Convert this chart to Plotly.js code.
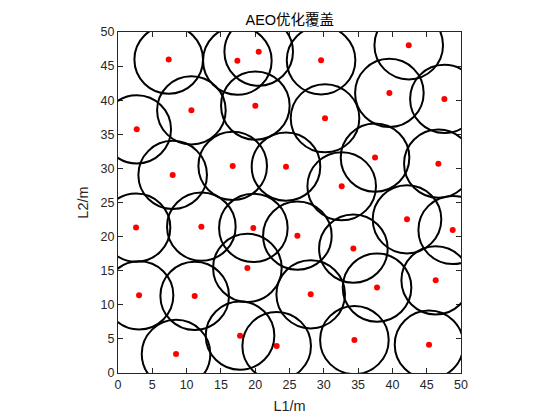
<!DOCTYPE html>
<html>
<head>
<meta charset="utf-8">
<script src="https://cdn.plot.ly/plotly-3.0.1.min.js"></script>
<style>html,body{margin:0;padding:0;background:#fff}#chart{width:560px;height:420px}</style>
</head>
<body>
<div id="chart"></div>
<script>
var nodeX = [7.39, 17.40, 20.51, 10.70, 20.02, 2.73, 7.97, 16.72, 24.49,
             29.60, 42.38, 39.56, 47.58, 30.18, 37.47, 46.70, 32.61,
             2.63, 12.15, 19.73, 18.86, 3.07, 11.18, 17.79, 23.13, 8.46,
             26.15, 34.31, 42.13, 48.79, 37.76, 46.31, 28.09, 34.46, 45.34];
var nodeY = [45.95, 45.80, 47.12, 38.52, 39.20, 35.73, 29.04, 30.36, 30.26,
             45.85, 48.05, 41.06, 40.18, 37.35, 31.58, 30.70, 27.38,
             21.32, 21.46, 21.27, 15.40, 11.39, 11.30, 5.48, 3.96, 2.79,
             20.14, 18.24, 22.54, 20.97, 12.52, 13.59, 11.54, 4.84, 4.16];
var coverRadius = 5;
var tickVals = [0, 5, 10, 15, 20, 25, 30, 35, 40, 45, 50];

var shapes = nodeX.map(function (cx, i) {
  var cy = nodeY[i];
  return {
    type: 'circle', xref: 'x', yref: 'y',
    x0: cx - coverRadius, x1: cx + coverRadius,
    y0: cy - coverRadius, y1: cy + coverRadius,
    line: {color: '#000000', width: 2}, layer: 'above'
  };
});

var trace = {
  x: nodeX, y: nodeY, mode: 'markers', type: 'scatter',
  marker: {color: '#ff0000', size: 6},
  hoverinfo: 'x+y'
};

var axisBase = {
  range: [0, 50], tickvals: tickVals, ticktext: tickVals.map(String),
  ticks: 'inside', ticklen: 5, tickwidth: 1, tickcolor: '#262626',
  showline: true, linecolor: '#262626', linewidth: 1, mirror: 'allticks',
  showgrid: false, zeroline: false,
  tickfont: {family: 'Liberation Sans, Arial, sans-serif', size: 12.5, color: '#262626'}
};

var layout = {
  width: 560, height: 420,
  margin: {l: 118, r: 99, t: 32, b: 47, pad: 0},
  paper_bgcolor: '#ffffff', plot_bgcolor: '#ffffff',
  showlegend: false,
  title: {text: 'AEO优化覆盖', x: 0.5175, xanchor: 'center', yref: 'paper', y: 1, yanchor: 'bottom',
          pad: {b: 7},
          font: {family: 'Liberation Sans, Noto Sans CJK SC, sans-serif', size: 14.5, color: '#000000'}},
  xaxis: Object.assign({}, axisBase, {
    title: {text: 'L1/m', standoff: 9, font: {family: 'Liberation Sans, Arial, sans-serif', size: 14.5, color: '#262626'}}
  }),
  yaxis: Object.assign({}, axisBase, {
    title: {text: 'L2/m', standoff: 8, font: {family: 'Liberation Sans, Arial, sans-serif', size: 14.5, color: '#262626'}}
  }),
  shapes: shapes
};

Plotly.newPlot('chart', [trace], layout, {displayModeBar: false, staticPlot: true});
</script>
</body>
</html>
